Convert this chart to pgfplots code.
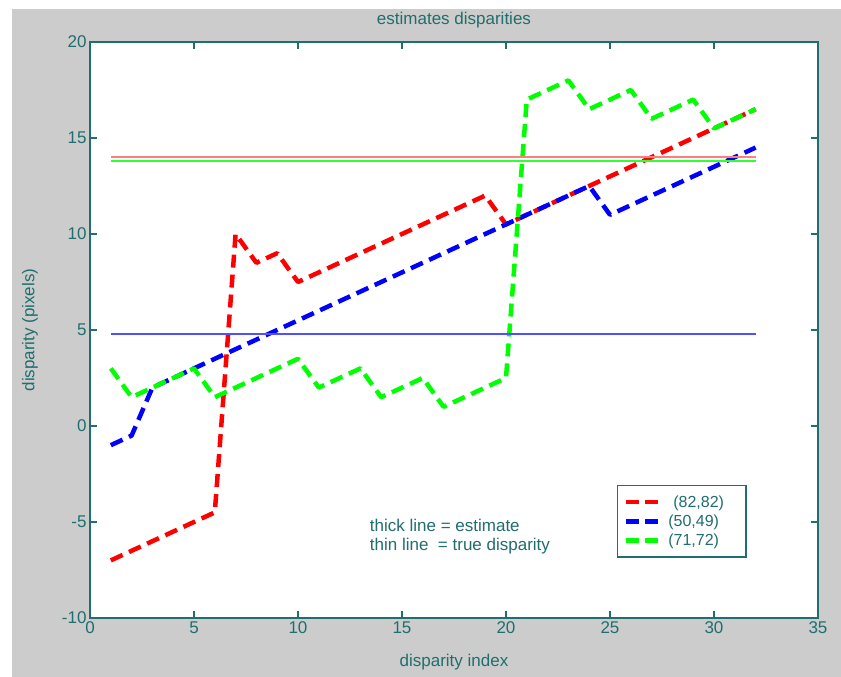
\documentclass[border=0pt]{standalone}
\usepackage{fontspec}
\setmainfont{Liberation Sans}
\usepackage{pgfplots}
\pgfplotsset{compat=1.18}
\definecolor{axcol}{RGB}{32,110,110}
\definecolor{bggray}{RGB}{204,204,204}
\definecolor{thinred}{RGB}{255,125,125}
\definecolor{thingreen}{RGB}{50,255,50}
\definecolor{thinblue}{RGB}{80,80,255}
\begin{document}
\begin{tikzpicture}[font=\fontsize{17}{20}\selectfont]
\fill[white] (-90pt,-59pt) rectangle (751pt,618pt);
\fill[bggray] (-78pt,-59pt) rectangle (751pt,609pt);
\begin{axis}[
  at={(0pt,0pt)}, anchor=south west,
  scale only axis, width=728pt, height=576pt,
  xmin=0, xmax=35, ymin=-10, ymax=20,
  xtick={0,5,...,35}, ytick={-10,-5,...,20},
  tick align=inside, xtick pos=both, ytick pos=both,
  major tick length=7pt,
  axis background/.style={fill=white},
  axis line style={draw=axcol, line width=1.2pt},
  every tick/.style={draw=axcol, line width=1.2pt},
  /pgf/number format/assume math mode=true,
  ticklabel style={text=axcol, font=\fontsize{17}{20}\selectfont},
  xlabel={disparity index},
  xlabel style={at={(axis description cs:0.5,-0.0764)}, anchor=center, text=axcol},
  ylabel={disparity (pixels)},
  ylabel style={at={(axis description cs:-0.0824,0.5)}, anchor=center, rotate=0, text=axcol},
  legend style={at={(0.902,0.105)}, anchor=south east, draw=axcol, line width=1.2pt,
    fill=white, text=axcol, font=\fontsize{16}{18}\selectfont,
    inner xsep=6pt, inner ysep=8pt, row sep=2pt, nodes={inner sep=2pt}},
  legend cell align=left,
  legend image code/.code={\draw[#1, line width=4.5pt, dash pattern=on 13pt off 6pt] (0pt,0pt) -- (32pt,0pt);},
  every axis plot/.append style={line join=round},
  clip=false,
]
\addplot[red, line width=4.5pt, dash pattern=on 13pt off 7pt] coordinates {
(1,-7) (2,-6.5) (3,-6) (4,-5.5) (5,-5) (6,-4.5) (7,10) (8,8.5) (9,9) (10,7.5)
(11,8) (12,8.5) (13,9) (14,9.5) (15,10) (16,10.5) (17,11) (18,11.5) (19,12) (20,10.5)
(21,11) (22,11.5) (23,12) (24,12.5) (25,13) (26,13.5) (27,14) (28,14.5) (29,15) (30,15.5)
(31,16) (32,16.5)};
\addlegendentry{\rule{11pt}{0pt}(82,82)\rule{14pt}{0pt}}
\addplot[blue, line width=4.5pt, dash pattern=on 13pt off 7pt] coordinates {
(1,-1) (2,-0.5) (3,2) (4,2.5) (5,3) (6,3.5) (7,4) (8,4.5) (9,5) (10,5.5)
(11,6) (12,6.5) (13,7) (14,7.5) (15,8) (16,8.5) (17,9) (18,9.5) (19,10) (20,10.5)
(21,11) (22,11.5) (23,12) (24,12.5) (25,11) (26,11.5) (27,12) (28,12.5) (29,13) (30,13.5)
(31,14) (32,14.5)};
\addlegendentry{\rule{6pt}{0pt}(50,49)}
\addplot[green, line width=4.5pt, dash pattern=on 13pt off 7pt] coordinates {
(1,3) (2,1.5) (3,2) (4,2.5) (5,3) (6,1.5) (7,2) (8,2.5) (9,3) (10,3.5)
(11,2) (12,2.5) (13,3) (14,1.5) (15,2) (16,2.5) (17,1) (18,1.5) (19,2) (20,2.5)
(21,17) (22,17.5) (23,18) (24,16.5) (25,17) (26,17.5) (27,16) (28,16.5) (29,17) (30,15.5)
(31,16) (32,16.5)};
\addlegendentry{\rule{6pt}{0pt}(71,72)}
\addplot[thinred, line width=2.2pt, forget plot] coordinates {(1,14) (32,14)};
\addplot[thingreen, line width=1.6pt, forget plot] coordinates {(1,13.8) (32,13.8)};
\addplot[thinblue, line width=1.6pt, forget plot] coordinates {(1,4.8) (32,4.8)};
\node[anchor=west, text=axcol, inner sep=0pt] at (axis cs:13.45,-5.16) {thick line = estimate};
\node[anchor=west, text=axcol, inner sep=0pt] at (axis cs:13.45,-6.23) {thin line\ \ = true disparity};
\node[text=axcol, inner sep=0pt] at (rel axis cs:0.5,1.038) {estimates disparities};
\end{axis}
\end{tikzpicture}
\end{document}
